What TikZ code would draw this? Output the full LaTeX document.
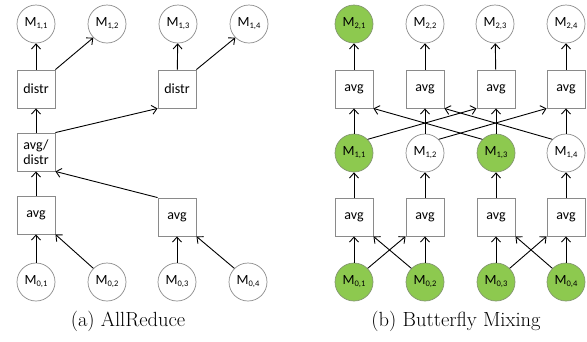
\documentclass[tikz,border=0pt]{standalone}
\usepackage{fontspec}
\newfontfamily\lbl{Carlito}
\usetikzlibrary{arrows.meta}
\definecolor{mgreen}{HTML}{8DC94F}
\definecolor{lgray}{HTML}{8A8A8A}
\newcommand{\Mx}[1]{M\raisebox{-0.3ex}{\fontsize{8.5}{9}\selectfont #1}}
\tikzset{
  mnode/.style={circle,draw=lgray,line width=0.7pt,minimum size=38pt,inner sep=0pt,font=\lbl\fontsize{14}{15.5}\selectfont},
  gnode/.style={mnode,fill=mgreen,draw=gray!70!mgreen},
  opbox/.style={rectangle,draw=lgray,line width=0.9pt,minimum width=38pt,minimum height=38pt,inner sep=0pt,align=center,font=\lbl\fontsize{14}{15.5}\selectfont},
  arr/.style={line width=0.9pt,-{Straight Barb[length=5pt,width=9pt,line width=0.9pt]}},
  captext/.style={font=\fontsize{20.5}{24}\selectfont,inner sep=0pt}
}
\begin{document}
\begin{tikzpicture}[x=1pt,y=-1pt]
\useasboundingbox (0,0) rectangle (587,341);
% ---------- (a) AllReduce ----------
\node[mnode] (a01) at (36,282) {\Mx{0,1}};
\node[mnode] (a02) at (107,282) {\Mx{0,2}};
\node[mnode] (a03) at (177,282) {\Mx{0,3}};
\node[mnode] (a04) at (248,282) {\Mx{0,4}};
\node[opbox] (aavg1) at (36,215) {avg};
\node[opbox] (aavg2) at (177,217) {avg};
\node[opbox] (aad) at (36,152) {avg/\\distr};
\node[opbox] (ad1) at (36,89) {distr};
\node[opbox] (ad2) at (177,89) {distr};
\node[mnode] (a11) at (36,24) {\Mx{1,1}};
\node[mnode] (a12) at (107,24) {\Mx{1,2}};
\node[mnode] (a13) at (178,24) {\Mx{1,3}};
\node[mnode] (a14) at (249,24) {\Mx{1,4}};
\draw[arr] (a01) -- (aavg1);
\draw[arr] (a02.135) -- (aavg1.south east);
\draw[arr] (a03) -- (aavg2);
\draw[arr] (a04.135) -- (aavg2.south east);
\draw[arr] (aavg1) -- (aad);
\draw[arr] (aavg2.north west) -- (aad.south east);
\draw[arr] (aad) -- (ad1);
\draw[arr] (aad.north east) -- (ad2.south west);
\draw[arr] (ad1) -- (a11);
\draw[arr] (ad1.north east) -- (a12.225);
\draw[arr] (ad2) -- (a13);
\draw[arr] (ad2.north east) -- (a14.225);
\node[captext] (capa) at (128,321) {(a) AllReduce};
% ---------- (b) Butterfly Mixing ----------
\node[gnode] (b01) at (354,282) {\Mx{0,1}};
\node[gnode] (b02) at (425,282) {\Mx{0,2}};
\node[gnode] (b03) at (496,282) {\Mx{0,3}};
\node[gnode] (b04) at (566,282) {\Mx{0,4}};
\node[opbox] (bl1) at (354,217) {avg};
\node[opbox] (bl2) at (425,217) {avg};
\node[opbox] (bl3) at (496,217) {avg};
\node[opbox] (bl4) at (566,217) {avg};
\node[gnode] (b11) at (354,153) {\Mx{1,1}};
\node[mnode] (b12) at (425,153) {\Mx{1,2}};
\node[gnode] (b13) at (496,153) {\Mx{1,3}};
\node[mnode] (b14) at (566,153) {\Mx{1,4}};
\node[opbox] (bu1) at (354,89) {avg};
\node[opbox] (bu2) at (425,89) {avg};
\node[opbox] (bu3) at (496,89) {avg};
\node[opbox] (bu4) at (566,89) {avg};
\node[gnode] (b21) at (354,24) {\Mx{2,1}};
\node[mnode] (b22) at (425,24) {\Mx{2,2}};
\node[mnode] (b23) at (495,24) {\Mx{2,3}};
\node[mnode] (b24) at (566,24) {\Mx{2,4}};
% bottom level
\draw[arr] (b01) -- (bl1);
\draw[arr] (b02) -- (bl2);
\draw[arr] (b03) -- (bl3);
\draw[arr] (b04) -- (bl4);
\draw[arr] (b01.45) -- (bl2.south west);
\draw[arr] (b02.135) -- (bl1.south east);
\draw[arr] (b03.45) -- (bl4.south west);
\draw[arr] (b04.135) -- (bl3.south east);
\draw[arr] (bl1) -- (b11);
\draw[arr] (bl2) -- (b12);
\draw[arr] (bl3) -- (b13);
\draw[arr] (bl4) -- (b14);
% middle level
\draw[arr] (b11) -- (bu1);
\draw[arr] (b12) -- (bu2);
\draw[arr] (b13) -- (bu3);
\draw[arr] (b14) -- (bu4);
\draw[arr] (b11.45) -- (bu3.south west);
\draw[arr] (b12.45) -- (bu4.south west);
\draw[arr] (b13.135) -- (bu1.south east);
\draw[arr] (b14.135) -- (bu2.south east);
\draw[arr] (bu1) -- (b21);
\draw[arr] (bu2) -- (b22);
\draw[arr] (bu3) -- (b23);
\draw[arr] (bu4) -- (b24);
\node[captext] (capb) at (456,321) {(b) Butterfly Mixing};
\end{tikzpicture}
\end{document}
